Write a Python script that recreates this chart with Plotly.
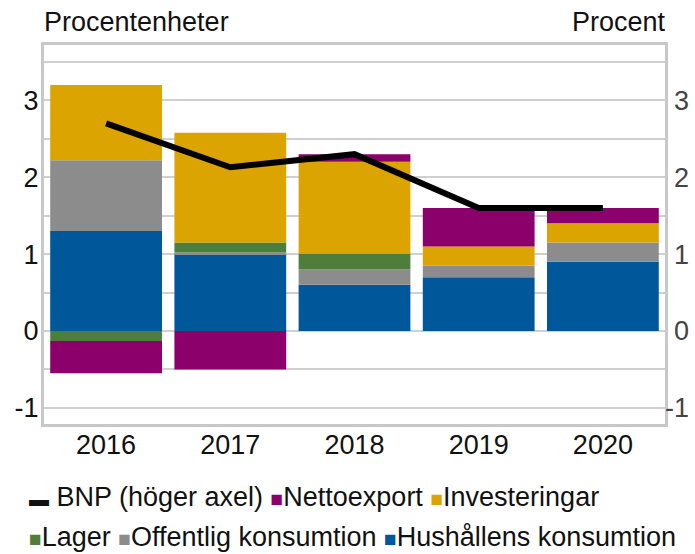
import plotly.graph_objects as go

years = ["2016", "2017", "2018", "2019", "2020"]
hushall = [1.30, 1.00, 0.60, 0.70, 0.90]
offentlig = [0.92, 0.02, 0.20, 0.15, 0.25]
lager = [-0.13, 0.13, 0.20, 0.0, 0.0]
investeringar = [0.98, 1.43, 1.20, 0.25, 0.25]
nettoexport = [-0.42, -0.50, 0.10, 0.50, 0.20]
bnp = [2.70, 2.13, 2.30, 1.60, 1.60]

tick_vals = [-1, 0, 1, 2, 3]
tick_text = ["-1", "0", "1", "2", "3"]

C_HUS = "#00589a"
C_OFF = "#8c8c8c"
C_LAG = "#4f7d3c"
C_INV = "#dca400"
C_NET = "#8b006b"

FONT = "Liberation Sans, Arial, sans-serif"
FS = 27
TXT = "#111111"
YR = [-1.21, 3.72]

L, R_MARGIN = 44, 3
PLOT_RIGHT = 665
PAPER_W = 695 - L - R_MARGIN
XDOM = (PLOT_RIGHT - L) / PAPER_W

fig = go.Figure()
for name, vals, col in [
    ("Hushållens konsumtion", hushall, C_HUS),
    ("Offentlig konsumtion", offentlig, C_OFF),
    ("Lager", lager, C_LAG),
    ("Investeringar", investeringar, C_INV),
    ("Nettoexport", nettoexport, C_NET),
]:
    fig.add_trace(go.Bar(x=years, y=vals, name=name, marker=dict(color=col, line=dict(width=0)),
                         showlegend=False))

fig.add_trace(go.Scatter(x=years, y=bnp, name="BNP (höger axel)", mode="lines",
                         line=dict(color="black", width=6), yaxis="y2", showlegend=False))

axis_line = dict(showline=True, linewidth=3, linecolor="#c8c8c8")
fig.update_layout(
    width=695, height=554,
    margin=dict(l=L, r=R_MARGIN, t=45, b=130, autoexpand=False),
    paper_bgcolor="white", plot_bgcolor="white",
    barmode="relative", bargap=0.1,
    font=dict(family=FONT, size=FS, color=TXT),
    xaxis=dict(type="category", domain=[0, XDOM], mirror=True, ticks="", showgrid=False,
               automargin=False, ticklabelstandoff=-5, tickfont=dict(size=FS), **axis_line),
    yaxis=dict(range=YR, tickvals=tick_vals, ticktext=tick_text, showgrid=True, automargin=False,
               gridcolor="#d0d0d0", gridwidth=1.5, zeroline=False, ticks="", mirror=True,
               ticklabelstandoff=-3,
               minor=dict(tickvals=[-0.5, 0.5, 1.5, 2.5, 3.5], showgrid=True,
                          gridcolor="#d0d0d0", gridwidth=1.5),
               **axis_line),
    yaxis2=dict(range=YR, tickvals=tick_vals, ticktext=tick_text, overlaying="y", side="right",
                anchor="free", position=1.0, ticklabelposition="inside",
                automargin=False, showline=False,
                showgrid=False, zeroline=False, ticks=""),
    showlegend=False,
)

def s(col):
    return f'<span style="color:{col};font-size:21px">■</span>'

TS = "\u2009"
row1 = ('<span style="font-size:20px">▬</span> BNP (höger axel) ' + s(C_NET)
        + 'Nettoexport ' + s(C_INV) + 'Investeringar')
row2 = (s(C_LAG) + 'Lager ' + s(C_OFF) + 'Offentlig konsumtion '
        + s(C_HUS) + 'Hushållens konsumtion')

H = 379.0
def px(x):
    return (x - L) / PAPER_W
def py(y):
    return (424 - y) / H

fig.add_annotation(text="Procentenheter", x=px(42), y=py(22), xref="paper", yref="paper",
                   xanchor="left", yanchor="middle", showarrow=False)
fig.add_annotation(text="Procent", x=px(668), y=py(22), xref="paper", yref="paper",
                   xanchor="right", yanchor="middle", showarrow=False)
fig.add_annotation(text=row1, x=px(27), y=py(497), xref="paper", yref="paper",
                   xanchor="left", yanchor="middle", showarrow=False, align="left")
fig.add_annotation(text=row2, x=px(27), y=py(537), xref="paper", yref="paper",
                   xanchor="left", yanchor="middle", showarrow=False, align="left")

fig.write_html("out.html", config={"displayModeBar": False},
               post_script="document.body.style.margin='0';")
